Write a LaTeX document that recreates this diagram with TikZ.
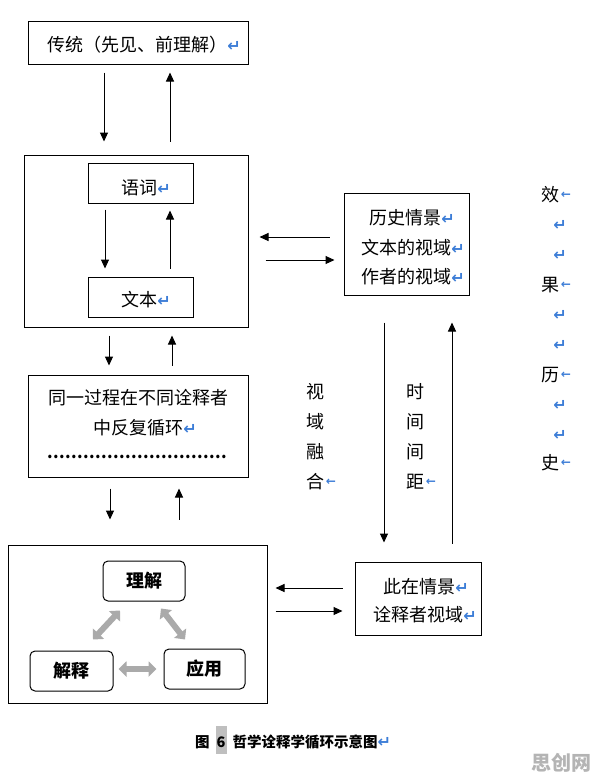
\documentclass[tikz,border=0pt]{standalone}
\usepackage{fontspec}
\usetikzlibrary{arrows.meta}
\newfontfamily\cjk{Noto Sans CJK SC}
\newfontfamily\symf{DejaVu Sans}
\definecolor{retblue}{RGB}{60,125,215}
\definecolor{garrow}{RGB}{170,170,170}
\definecolor{wmark}{RGB}{180,180,180}
\newcommand\ret{{\symf\bfseries\color{retblue}\fontsize{16}{16}\selectfont ↵}}
\newcommand\sret{{\symf\bfseries\color{retblue}\fontsize{12}{12}\selectfont ←}}
\begin{document}
\begin{tikzpicture}[x=1pt,y=-1pt,
  box/.style={draw, line width=1pt, inner sep=0pt},
  rbox/.style={draw, line width=1pt, inner sep=0pt, rounded corners=5pt},
  txt/.style={font=\cjk\fontsize{18}{18}\selectfont, inner sep=0pt},
  btxt/.style={font=\cjk\bfseries\fontsize{18}{18}\selectfont, inner sep=0pt},
  arr/.style={-{Triangle[length=9pt,width=8pt]}, line width=1pt},
  garr/.style={{Triangle[length=8pt,width=15pt]}-{Triangle[length=8pt,width=15pt]}, line width=6pt, draw=garrow}]
\useasboundingbox (0,0) rectangle (596,774);
\fill[white] (0,0) rectangle (596,774);

% boxes
\node[box, minimum width=220pt, minimum height=43pt] (top) at (138,42.5) {};
\node[box, minimum width=224pt, minimum height=172pt] (box2) at (136,241) {};
\node[box, minimum width=105pt, minimum height=40pt] (yuci) at (140.5,183) {};
\node[box, minimum width=105pt, minimum height=40pt] (wenben) at (140.5,297) {};
\node[box, minimum width=220pt, minimum height=102pt] (box3) at (138,426) {};
\node[box, minimum width=259pt, minimum height=158pt] (box4) at (137.5,624) {};
\node[rbox, minimum width=82pt, minimum height=40pt] (lijie) at (144,581) {};
\node[rbox, minimum width=83pt, minimum height=40pt] (jieshi) at (71.5,671) {};
\node[rbox, minimum width=81pt, minimum height=40pt] (yingyong) at (204.5,669) {};
\node[box, minimum width=125pt, minimum height=102pt] (rbox1) at (406.5,244) {};
\node[box, minimum width=126pt, minimum height=73pt] (rbox2) at (418,598.5) {};

% texts
\node[txt] (ttop) at (144,45) {传统（先见、前理解）\ret};
\node[txt] (tyuci) at (146,188) {语词\ret};
\node[txt] (twenben) at (146,300) {文本\ret};
\node[txt] (tr1a) at (412,218) {历史情景\ret};
\node[txt] (tr1b) at (413,248) {文本的视域\ret};
\node[txt] (tr1c) at (413,277) {作者的视域\ret};
\node[txt] (tb3a) at (137,398) {\hbox to 177pt{同\hfil 一\hfil 过\hfil 程\hfil 在\hfil 不\hfil 同\hfil 诠\hfil 释\hfil 者}};
\node[txt] (tb3b) at (145,428) {中反复循环\ret};
\node[txt, font=\cjk\bfseries\fontsize{16}{16}\selectfont] (tb3c) at (137,457) {\hbox to 180pt{\xleaders\hbox to 6pt{\hss.\hss}\hfil}};
\node[txt] (tr2a) at (426,587) {此在情景\ret};
\node[txt] (tr2b) at (425,615) {诠释者视域\ret};
\node[btxt] (tlijie) at (144,581) {理解};
\node[btxt] (tjieshi) at (71.5,671) {解释};
\node[btxt] (tyingyong) at (204.5,669) {应用};

% vertical texts
\node[txt] (v1) at (315,392) {视};
\node[txt] (v2) at (315,422) {域};
\node[txt] (v3) at (315,452) {融};
\node[txt] (v4) at (315,482) {合};
\node[inner sep=0pt] (v4r) at (331,482) {\sret};
\node[txt] (s1) at (415,392) {时};
\node[txt] (s2) at (415,422) {间};
\node[txt] (s3) at (415,452) {间};
\node[txt] (s4) at (415,482) {距};
\node[inner sep=0pt] (s4r) at (431,482) {\sret};

\node[txt] (e1) at (550,195) {效};
\node[inner sep=0pt] (e1r) at (566,195) {\sret};
\node[inner sep=0pt] (e1a) at (560,225) {\ret};
\node[inner sep=0pt] (e1b) at (560,255) {\ret};
\node[txt] (e2) at (550,285) {果};
\node[inner sep=0pt] (e2r) at (566,285) {\sret};
\node[inner sep=0pt] (e2a) at (560,315) {\ret};
\node[inner sep=0pt] (e2b) at (560,345) {\ret};
\node[txt] (e3) at (550,375) {历};
\node[inner sep=0pt] (e3r) at (566,375) {\sret};
\node[inner sep=0pt] (e3a) at (560,405) {\ret};
\node[inner sep=0pt] (e3b) at (560,435) {\ret};
\node[txt] (e4) at (550,463) {史};
\node[inner sep=0pt] (e4r) at (566,463) {\sret};

% caption
\node[inner sep=0pt, anchor=west, font=\cjk\bfseries\fontsize{14.5}{14.5}\selectfont] (cap) at (195,740)
  {图\hspace{6pt}{\setlength{\fboxsep}{1pt}\colorbox{black!25}{\rule[-6pt]{0pt}{26pt}6}}\hspace{6pt}哲学诠释学循环示意图\ret};
\node[inner sep=0pt, text=wmark, font=\cjk\bfseries\fontsize{20}{20}\selectfont] (wm) at (561,763) {思创网};

% arrows
\draw[arr] ([xshift=-34pt,yshift=-8pt]top.south) -- ([xshift=-32pt,yshift=13pt]box2.north);
\draw[arr] ([xshift=34pt,yshift=13pt]box2.north) -- ([xshift=32pt,yshift=-8pt]top.south);
\draw[arr] ([xshift=-35.5pt,yshift=-6pt]yuci.south) -- ([xshift=-35.5pt,yshift=8pt]wenben.north);
\draw[arr] ([xshift=29.5pt,yshift=8pt]wenben.north) -- ([xshift=29.5pt,yshift=-7pt]yuci.south);
\draw[arr] ([xshift=-27pt,yshift=-8pt]box2.south) -- ([xshift=-29pt,yshift=9pt]box3.north);
\draw[arr] ([xshift=34pt,yshift=9pt]box3.north) -- ([xshift=36pt,yshift=-8pt]box2.south);
\draw[arr] ([xshift=-28pt,yshift=-11pt]box3.south) -- ([xshift=-27.5pt,yshift=25pt]box4.north);
\draw[arr] ([xshift=41.5pt,yshift=25pt]box4.north) -- ([xshift=41pt,yshift=-11pt]box3.south);
\draw[arr] ([xshift=-14pt,yshift=7pt]rbox1.west) -- ([xshift=11pt,yshift=4pt]box2.east);
\draw[arr] ([xshift=17pt,yshift=-19pt]box2.east) -- ([xshift=-9pt,yshift=-16pt]rbox1.west);
\draw[arr] ([xshift=-12pt,yshift=10.5pt]rbox2.west) -- ([xshift=8pt,yshift=36pt]box4.east);
\draw[arr] ([xshift=8pt,yshift=13pt]box4.east) -- ([xshift=-12pt,yshift=-12.5pt]rbox2.west);
\draw[arr] ([xshift=-22.5pt,yshift=-27pt]rbox1.south) -- ([xshift=-34pt,yshift=19pt]rbox2.north);
\draw[arr] ([xshift=34pt,yshift=18pt]rbox2.north) -- ([xshift=45.5pt,yshift=-27pt]rbox1.south);

% gray double arrows
\draw[garr] ([xshift=21.5pt,yshift=11pt]jieshi.north) -- ([xshift=-24pt,yshift=-9pt]lijie.south);
\draw[garr] ([xshift=17pt,yshift=-7pt]lijie.south) -- ([xshift=-19.5pt,yshift=9pt]yingyong.north);
\draw[garr] ([xshift=5pt,yshift=2pt]jieshi.east) -- ([xshift=-7pt]yingyong.west);
\end{tikzpicture}
\end{document}
